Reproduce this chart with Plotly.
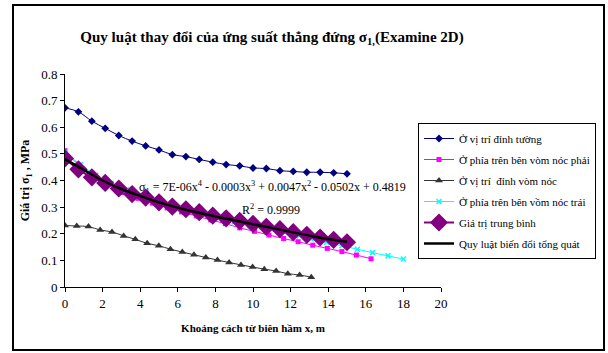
import plotly.graph_objects as go

# ---- data ----
x_wall = [0, 0.714, 1.43, 2.14, 2.86, 3.57, 4.29, 5.0, 5.71, 6.43, 7.14, 7.86,
          8.57, 9.29, 10.0, 10.71, 11.43, 12.14, 12.86, 13.57, 14.29, 15.0]
y_wall = [0.673, 0.658, 0.623, 0.596, 0.569, 0.548, 0.530, 0.515, 0.497, 0.490,
          0.479, 0.469, 0.460, 0.455, 0.447, 0.445, 0.437, 0.434, 0.431, 0.431,
          0.429, 0.425]

x_right = [0, 0.775, 1.55, 2.33, 3.10, 3.88, 4.65, 5.43, 6.20, 6.98, 7.75, 8.53,
           9.30, 10.08, 10.85, 11.63, 12.40, 13.18, 13.95, 14.73, 15.50, 16.28]
y_right = [0.512, 0.455, 0.415, 0.385, 0.355, 0.333, 0.315, 0.297, 0.282, 0.267,
           0.252, 0.238, 0.222, 0.209, 0.195, 0.182, 0.170, 0.157, 0.145, 0.133,
           0.120, 0.106]

x_crown = [0, 0.624, 1.25, 1.87, 2.50, 3.12, 3.74, 4.37, 4.99, 5.61, 6.24, 6.86,
           7.49, 8.11, 8.73, 9.36, 9.98, 10.60, 11.23, 11.85, 12.48, 13.10]
y_crown = [0.231, 0.229, 0.227, 0.214, 0.207, 0.192, 0.179, 0.164, 0.155, 0.142,
           0.131, 0.121, 0.111, 0.101, 0.092, 0.083, 0.075, 0.067, 0.060, 0.050,
           0.045, 0.037]

x_left = [0, 0.818, 1.636, 2.45, 3.27, 4.09, 4.91, 5.73, 6.55, 7.36, 8.18, 9.0,
          9.82, 10.64, 11.45, 12.27, 13.09, 13.91, 14.73, 15.55, 16.36, 17.18, 18.0]
y_left = [0.505, 0.460, 0.420, 0.390, 0.365, 0.343, 0.322, 0.304, 0.288, 0.273,
          0.258, 0.244, 0.230, 0.217, 0.204, 0.192, 0.180, 0.168, 0.155, 0.142,
          0.129, 0.117, 0.105]

x_mean = x_wall
y_mean = [0.483, 0.442, 0.412, 0.391, 0.370, 0.349, 0.336, 0.318, 0.302, 0.292,
          0.281, 0.268, 0.258, 0.248, 0.237, 0.226, 0.217, 0.206, 0.196, 0.186,
          0.177, 0.168]

x_fit = [0, 1, 2, 3, 4, 5, 6, 7, 8, 9, 10, 11, 12, 13, 14, 15]
y_fit = [0.480, 0.440, 0.400, 0.368, 0.342, 0.318, 0.298, 0.281, 0.265, 0.251,
         0.236, 0.222, 0.207, 0.193, 0.180, 0.170]

names = ["Ở vị trí đỉnh tường", "Ở phía trên bên vòm nóc phải", "Ở vị trí  đỉnh vòm nóc",
         "Ở phía trên bên vồm nóc trái", "Giá trị trung bình", "Quy luật biến đổi tổng quát"]

x_ticks = [0, 2, 4, 6, 8, 10, 12, 14, 16, 18, 20]
y_ticks = [0, 0.1, 0.2, 0.3, 0.4, 0.5, 0.6, 0.7, 0.8]

FONT = "Liberation Serif, DejaVu Serif, serif"

fig = go.Figure()
fig.add_trace(go.Scatter(x=x_wall, y=y_wall, name=names[0], mode="lines+markers",
                         legendgroup="g0",
                         line=dict(color="#000080", width=1, shape="spline"),
                         marker=dict(symbol="diamond", size=6, color="#000080")))
fig.add_trace(go.Scatter(x=x_right, y=y_right, name=names[1], mode="lines+markers",
                         legendgroup="g1",
                         line=dict(color="#FF00FF", width=1, shape="spline"),
                         marker=dict(symbol="square", size=5, color="#FF00FF")))
fig.add_trace(go.Scatter(x=x_crown, y=y_crown, name=names[2], mode="lines+markers",
                         legendgroup="g2",
                         line=dict(color="#333333", width=1, shape="spline"),
                         marker=dict(symbol="triangle-up", size=7, color="#333333")))
fig.add_trace(go.Scatter(x=x_left, y=y_left, name=names[3], mode="lines+markers",
                         legendgroup="g3",
                         line=dict(color="#00FFFF", width=1, shape="spline"),
                         marker=dict(symbol="x-thin", size=5,
                                     line=dict(color="#00FFFF", width=1.5))))
fig.add_trace(go.Scatter(x=x_mean, y=y_mean, name=names[4], mode="lines+markers",
                         legendgroup="g4",
                         line=dict(color="#800080", width=2, shape="spline"),
                         marker=dict(symbol="diamond", size=14, color="#800080")))
fig.add_trace(go.Scatter(x=x_fit, y=y_fit, name=names[5], mode="lines",
                         legendgroup="g5",
                         line=dict(color="black", width=2.5, shape="spline")))

L, R, T, B = 65, 167, 74, 66
W, H = 608, 353
pw, ph = W - L - R, H - T - B

def px_x(p):
    return (p - L) / pw

def px_y(p):
    return (H - B - p) / ph

fig.update_layout(
    width=W, height=H,
    margin=dict(l=L, r=R, t=T, b=B, autoexpand=False),
    paper_bgcolor="white", plot_bgcolor="white",
    font=dict(family=FONT, size=12, color="black"),
    showlegend=True,
    legend=dict(x=px_x(596), y=px_y(123), xanchor="right", yanchor="top",
                bordercolor="black", borderwidth=1, bgcolor="white",
                font=dict(family=FONT, size=11), itemwidth=30,
                tracegroupgap=2),
    title=dict(text="<b>Quy luật thay đổi của ứng suất thẳng đứng σ<sub>1,</sub>(Examine 2D)</b>",
               xref="container", x=272 / W, xanchor="center",
               yref="container", y=1 - 37 / H, yanchor="middle",
               font=dict(family=FONT, size=15)),
    xaxis=dict(range=[0, 20], tickvals=x_ticks, ticktext=[str(v) for v in x_ticks],
               showgrid=False, zeroline=False, showline=True, linecolor="black",
               linewidth=1, ticks="outside", ticklen=4, tickcolor="black",
               tickfont=dict(family=FONT, size=13),
               title=dict(text="<b>Khoảng cách từ biên hầm x, m</b>",
                          font=dict(family=FONT, size=11), standoff=14)),
    yaxis=dict(range=[0, 0.8], tickvals=y_ticks, ticktext=[str(v) for v in y_ticks],
               showgrid=False, zeroline=False, showline=True, linecolor="black",
               linewidth=1, ticks="outside", ticklen=4, tickcolor="black",
               tickfont=dict(family=FONT, size=13),
               title=dict(text="<b>Giá trị σ<sub>1</sub> , MPa</b>",
                          font=dict(family=FONT, size=12), standoff=8)),
)

fig.add_annotation(x=px_x(272), y=px_y(187), xref="paper", yref="paper",
                   text="σ<sub>1</sub> = 7E-06x<sup>4</sup> - 0.0003x<sup>3</sup> + 0.0047x<sup>2</sup> - 0.0502x + 0.4819",
                   showarrow=False, font=dict(family=FONT, size=12))
fig.add_annotation(x=px_x(271), y=px_y(209), xref="paper", yref="paper",
                   text="R<sup>2</sup> = 0.9999", showarrow=False,
                   font=dict(family=FONT, size=12))

# outer frame of the chart area (page decoration, not data)
post = (
    "document.body.style.margin='0';"
    "var f=document.createElement('div');"
    "f.style.cssText='position:absolute;left:12px;top:4px;width:593px;height:347px;"
    "border:2px solid black;box-sizing:border-box;pointer-events:none;z-index:10;';"
    "document.body.appendChild(f);"
)

fig.write_html("out.html", config={"displayModeBar": False}, post_script=post)
